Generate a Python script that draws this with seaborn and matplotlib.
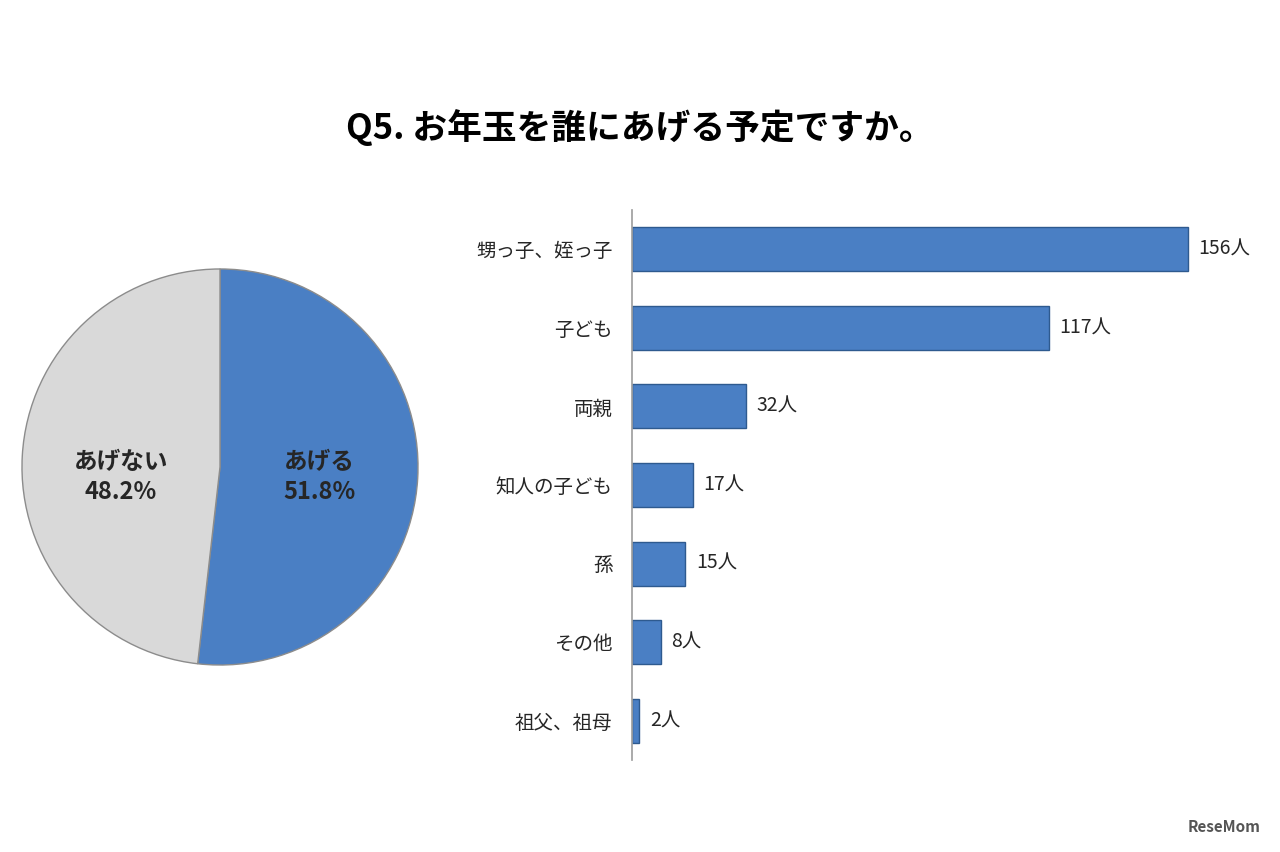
import matplotlib
matplotlib.use("Agg")
import matplotlib.pyplot as plt
import seaborn as sns
import pandas as pd

sns.set_theme(style="white")
plt.rcParams['font.family'] = ['Noto Sans CJK JP', 'DejaVu Sans']

title = "Q5. お年玉を誰にあげる予定ですか。"
pie_labels = ["あげる", "あげない"]
pie_values = [51.8, 48.2]
categories = ["甥っ子、姪っ子", "子ども", "両親", "知人の子ども", "孫", "その他", "祖父、祖母"]
counts = [156, 117, 32, 17, 15, 8, 2]

fig = plt.figure(figsize=(12.8, 8.52), dpi=100)
fig.patch.set_facecolor("white")
fig.text(0.5, 1 - 128/852, title, ha="center", va="center", fontsize=25, fontweight="bold", color="black")

# Pie
axp = fig.add_axes([20/1280, 1 - 667/852, 400/1280, 400/852])
axp.pie(pie_values, colors=["#4a7fc4", "#d9d9d9"], startangle=90, counterclock=False,
        radius=1, frame=False, wedgeprops=dict(edgecolor="#8c8c8c", linewidth=1))
axp.set_xlim(-1.01, 1.01)
axp.set_ylim(-1.01, 1.01)
axp.set_aspect("equal")
axp.axis("off")
axp.text(0.5, -0.05, f"{pie_labels[0]}\n{pie_values[0]}%", ha="center", va="center",
         fontsize=17, fontweight="bold", linespacing=1.3)
axp.text(-0.5, -0.05, f"{pie_labels[1]}\n{pie_values[1]}%", ha="center", va="center",
         fontsize=17, fontweight="bold", linespacing=1.3)

# Bars
axb = fig.add_axes([632/1280, 1 - 760/852, 638/1280, 550/852])
df = pd.DataFrame({"cat": categories, "n": counts})
sns.barplot(data=df, y="cat", x="n", ax=axb, color="#4a7fc4", width=0.56,
            edgecolor="#2e5a8f", linewidth=1, saturation=1, orient="h")
axb.set_xlim(0, 179)
axb.set_ylim(6.5, -0.5)
axb.set_xlabel("")
axb.set_ylabel("")
axb.set_xticks([])
for s in ["top", "right", "bottom"]:
    axb.spines[s].set_visible(False)
axb.spines["left"].set_color("#a0a0a0")
axb.tick_params(axis="y", labelsize=14, pad=14, length=0)
for i, v in enumerate(counts):
    axb.text(v + 3, i, f"{v}人", va="center", ha="left", fontsize=14)

fig.text(0.985, 0.02, "ReseMom", ha="right", va="bottom", fontsize=11, fontweight="bold", color="#555555")
fig.savefig("out.png", dpi=100, facecolor="white")
